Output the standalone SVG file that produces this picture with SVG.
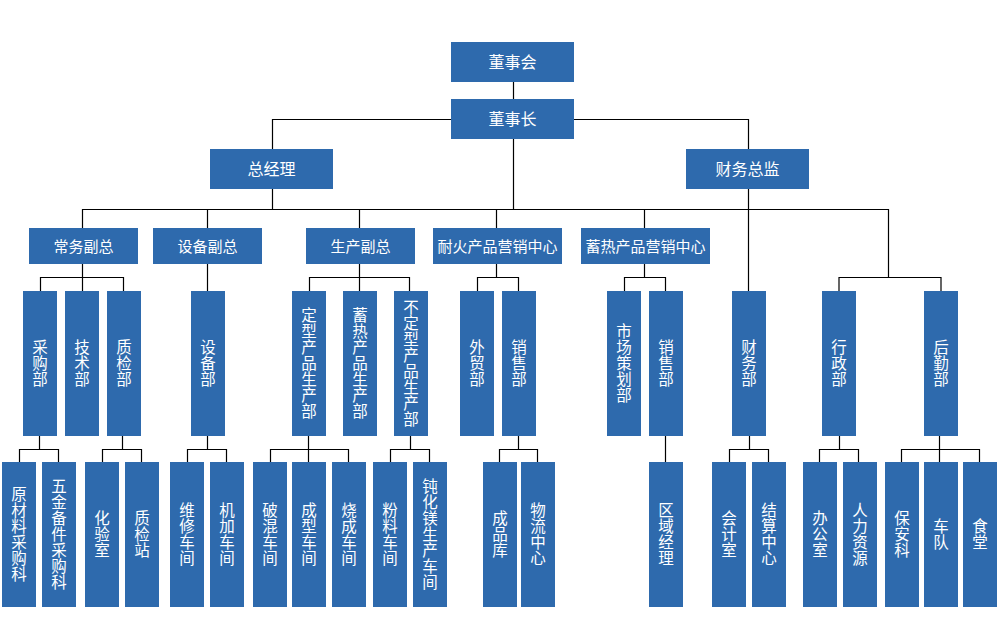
<svg xmlns="http://www.w3.org/2000/svg" width="1000" height="627" viewBox="0 0 1000 627">
<style>
.b{fill:#2E6AAD}
.t{fill:#fff;font-family:"Noto Sans CJK SC","Noto Sans",sans-serif;text-anchor:middle}
.h1{font-size:16px}
.h2{font-size:15px}
.v{font-size:15.5px;writing-mode:vertical-rl;text-orientation:upright;letter-spacing:0.5px}
.c{fill:none;stroke:#000;stroke-width:1.2}
</style>
<rect width="1000" height="627" fill="#fff"/>
<g id="connectors" class="c">
<path d="M513.5 82V99M451 119.5H272.5V149M574 119.5H748.5V149M513.5 139V209.5M272.5 189V209.5M82.5 228V209.5H888.5V277.5M748.5 189V291M207.5 209.5V228M359.5 209.5V228M496.5 209.5V228M644.5 209.5V228M839 291V277.5H941V291"/>
<path d="M82.5 264V291M40.5 291V277.5H123.5V291M207.5 264V291M359.5 264V291M309.5 291V277.5H409.5V291M496.5 264V277.5M477.5 291V277.5H518.5V291M644.5 264V277.5M624.5 291V277.5H665.5V291"/>
<path d="M39.5 436V449.5M19.5 462V449.5H58.5V462M122.5 436V449.5M102.5 462V449.5H141.5V462M207.5 436V449.5M187.5 462V449.5H226.5V462M308.5 436V462M270.5 462V449.5H348.5V462M410.5 436V449.5M390.5 462V449.5H429.5V462M518.5 436V449.5M499.5 462V449.5H537.5V462M665.5 436V462M749.5 436V449.5M729.5 462V449.5H768.5V462M839.5 436V449.5M819.5 462V449.5H858.5V462M939.5 436V462M901.5 462V449.5H979.5V462"/>
</g>
<g id="n-dongshihui"><rect class="b" x="451" y="42" width="123" height="40"/><text class="t h1" x="512.5" y="67.5">董事会</text></g>
<g id="n-dongshizhang"><rect class="b" x="451" y="99" width="123" height="40"/><text class="t h1" x="512.5" y="124.5">董事长</text></g>
<g id="n-zongjingli"><rect class="b" x="210" y="149" width="123" height="40"/><text class="t h1" x="271.5" y="174.5">总经理</text></g>
<g id="n-caiwuzongjian"><rect class="b" x="686" y="149" width="123" height="40"/><text class="t h1" x="747.5" y="174.5">财务总监</text></g>
<g id="n-changwu"><rect class="b" x="29" y="228" width="109" height="36"/><text class="t h2" x="83.5" y="251.5">常务副总</text></g>
<g id="n-shebeifuzong"><rect class="b" x="153" y="228" width="109" height="36"/><text class="t h2" x="207.5" y="251.5">设备副总</text></g>
<g id="n-shengchan"><rect class="b" x="306" y="228" width="109" height="36"/><text class="t h2" x="360.5" y="251.5">生产副总</text></g>
<g id="n-naihuo"><rect class="b" x="433" y="228" width="129" height="36"/><text class="t h2" x="497.5" y="251.5">耐火产品营销中心</text></g>
<g id="n-xure"><rect class="b" x="581" y="228" width="129" height="36"/><text class="t h2" x="645.5" y="251.5">蓄热产品营销中心</text></g>

<g id="n-caigou"><rect class="b" x="23" y="291" width="34" height="145"/><text class="t v" x="40" y="363.5">采购部</text></g>
<g id="n-jishu"><rect class="b" x="65" y="291" width="34" height="145"/><text class="t v" x="82" y="363.5">技术部</text></g>
<g id="n-zhijian"><rect class="b" x="107" y="291" width="34" height="145"/><text class="t v" x="124" y="363.5">质检部</text></g>
<g id="n-shebeibu"><rect class="b" x="191" y="291" width="34" height="145"/><text class="t v" x="208" y="363.5">设备部</text></g>
<g id="n-dingxing"><rect class="b" x="292" y="291" width="34" height="145"/><text class="t v" x="309" y="363.5">定型产品生产部</text></g>
<g id="n-xureshengchan"><rect class="b" x="343" y="291" width="34" height="145"/><text class="t v" x="360" y="363.5">蓄热产品生产部</text></g>
<g id="n-budingxing"><rect class="b" x="394" y="291" width="34" height="145"/><text class="t v" x="411" y="363.5">不定型产品生产部</text></g>
<g id="n-waimao"><rect class="b" x="460" y="291" width="34" height="145"/><text class="t v" x="477" y="363.5">外贸部</text></g>
<g id="n-xiaoshou1"><rect class="b" x="502" y="291" width="34" height="145"/><text class="t v" x="519" y="363.5">销售部</text></g>
<g id="n-shichang"><rect class="b" x="607" y="291" width="34" height="145"/><text class="t v" x="624" y="363.5">市场策划部</text></g>
<g id="n-xiaoshou2"><rect class="b" x="649" y="291" width="34" height="145"/><text class="t v" x="666" y="363.5">销售部</text></g>
<g id="n-caiwubu"><rect class="b" x="732" y="291" width="34" height="145"/><text class="t v" x="749" y="363.5">财务部</text></g>
<g id="n-xingzheng"><rect class="b" x="822" y="291" width="34" height="145"/><text class="t v" x="839" y="363.5">行政部</text></g>
<g id="n-houqin"><rect class="b" x="924" y="291" width="34" height="145"/><text class="t v" x="941" y="363.5">后勤部</text></g>

<g id="n-yuancailiao"><rect class="b" x="2" y="462" width="34" height="145"/><text class="t v" x="19" y="534.5">原材料采购科</text></g>
<g id="n-wujin"><rect class="b" x="42" y="462" width="34" height="145"/><text class="t v" x="59" y="534.5">五金备件采购科</text></g>
<g id="n-huayan"><rect class="b" x="85" y="462" width="34" height="145"/><text class="t v" x="102" y="534.5">化验室</text></g>
<g id="n-zhijianzhan"><rect class="b" x="125" y="462" width="34" height="145"/><text class="t v" x="142" y="534.5">质检站</text></g>
<g id="n-weixiu"><rect class="b" x="170" y="462" width="34" height="145"/><text class="t v" x="187" y="534.5">维修车间</text></g>
<g id="n-jijia"><rect class="b" x="210" y="462" width="34" height="145"/><text class="t v" x="227" y="534.5">机加车间</text></g>
<g id="n-pohun"><rect class="b" x="253" y="462" width="34" height="145"/><text class="t v" x="270" y="534.5">破混车间</text></g>
<g id="n-chengxing"><rect class="b" x="292" y="462" width="34" height="145"/><text class="t v" x="309" y="534.5">成型车间</text></g>
<g id="n-shaocheng"><rect class="b" x="332" y="462" width="34" height="145"/><text class="t v" x="349" y="534.5">烧成车间</text></g>
<g id="n-fenliao"><rect class="b" x="373" y="462" width="34" height="145"/><text class="t v" x="390" y="534.5">粉料车间</text></g>
<g id="n-dunhuamei"><rect class="b" x="413" y="462" width="34" height="145"/><text class="t v" x="430" y="534.5">钝化镁生产车间</text></g>
<g id="n-chengpinku"><rect class="b" x="483" y="462" width="34" height="145"/><text class="t v" x="500" y="534.5">成品库</text></g>
<g id="n-wuliu"><rect class="b" x="521" y="462" width="34" height="145"/><text class="t v" x="538" y="534.5">物流中心</text></g>
<g id="n-quyu"><rect class="b" x="649" y="462" width="34" height="145"/><text class="t v" x="666" y="534.5">区域经理</text></g>
<g id="n-kuaiji"><rect class="b" x="712" y="462" width="34" height="145"/><text class="t v" x="729" y="534.5">会计室</text></g>
<g id="n-jiesuan"><rect class="b" x="752" y="462" width="34" height="145"/><text class="t v" x="769" y="534.5">结算中心</text></g>
<g id="n-bangong"><rect class="b" x="803" y="462" width="34" height="145"/><text class="t v" x="820" y="534.5">办公室</text></g>
<g id="n-renli"><rect class="b" x="843" y="462" width="34" height="145"/><text class="t v" x="860" y="534.5">人力资源</text></g>
<g id="n-baoan"><rect class="b" x="885" y="462" width="34" height="145"/><text class="t v" x="902" y="534.5">保安科</text></g>
<g id="n-chedui"><rect class="b" x="924" y="462" width="34" height="145"/><text class="t v" x="941" y="534.5">车队</text></g>
<g id="n-shitang"><rect class="b" x="963" y="462" width="34" height="145"/><text class="t v" x="980" y="534.5">食堂</text></g>
</svg>
